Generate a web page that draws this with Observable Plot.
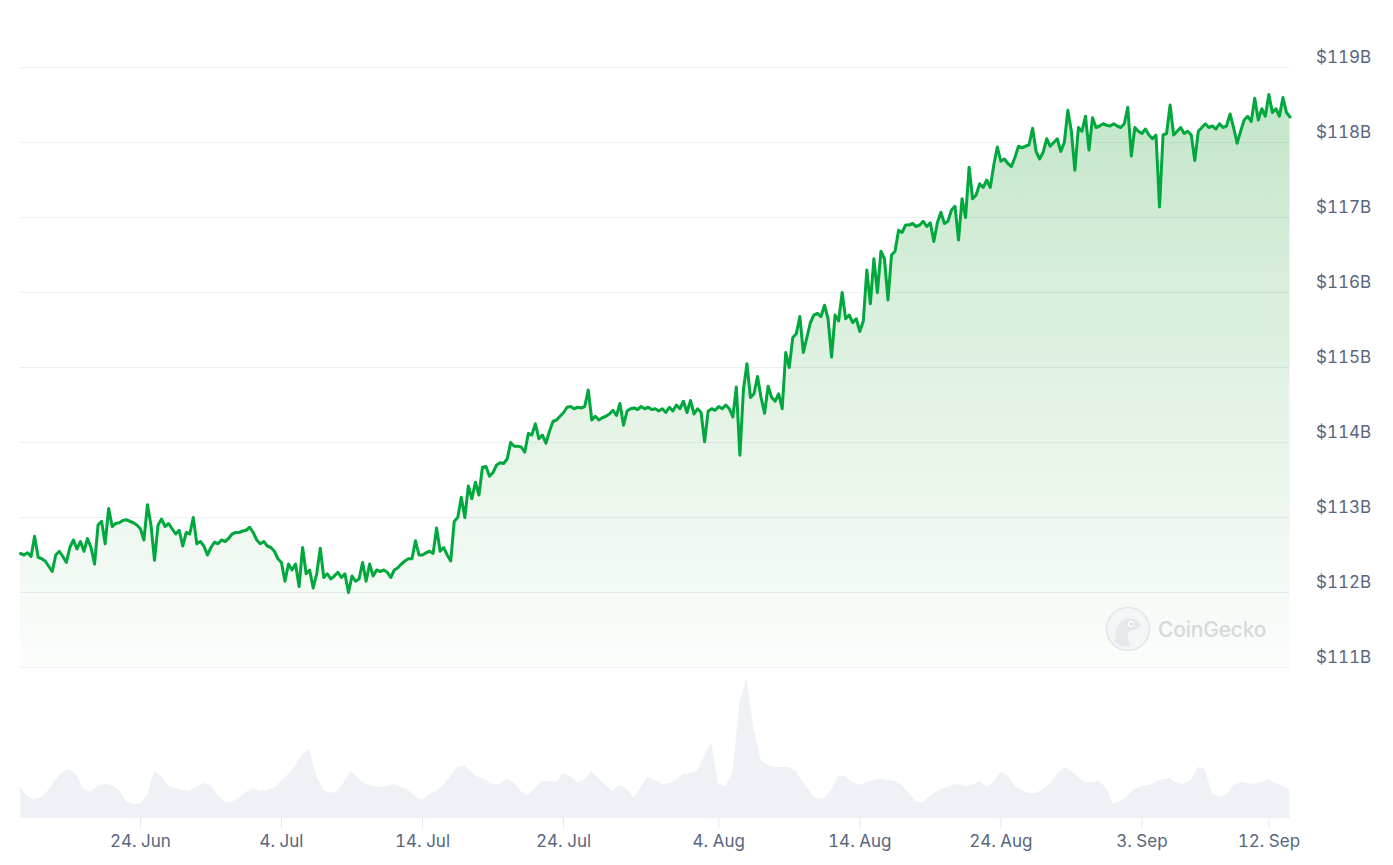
<!DOCTYPE html>
<html>
<head>
<meta charset="utf-8">
<script src="https://cdn.jsdelivr.net/npm/d3@7"></script>
<script src="https://cdn.jsdelivr.net/npm/@observablehq/plot@0.6"></script>
<style>
  html, body { margin: 0; padding: 0; background: #ffffff; }
  #wrap { position: relative; width: 1393px; height: 865px; overflow: hidden; font-family: Inter, "Noto Sans", sans-serif; }
  #wrap svg { display: block; }
  #mark { position: absolute; left: 1105px; top: 606px; display: flex; align-items: center; gap: 7px; color: #d6d8db; font-size: 21px; font-weight: 500; letter-spacing: -0.2px; }
</style>
</head>
<body>
<div id="wrap"></div>
<script>
// ---- data ----
// Market cap in $B, one value every 6 hours from 15 Jun 12:00 UTC
const seriesStart = "2025-06-15T12:00:00Z";
const priceStepHours = 6;
const marketCapB = [
  112.52,112.50,112.53,112.48,112.75,112.47,112.45,112.42,112.35,112.28,
  112.50,112.55,112.48,112.40,112.60,112.70,112.58,112.68,112.55,112.72,
  112.60,112.38,112.90,112.95,112.65,113.12,112.88,112.92,112.93,112.96,
  112.97,112.95,112.93,112.90,112.85,112.70,113.17,112.90,112.43,112.90,
  112.98,112.88,112.92,112.85,112.78,112.83,112.62,112.80,112.78,113.00,
  112.65,112.68,112.62,112.50,112.60,112.67,112.65,112.70,112.68,112.72,
  112.78,112.80,112.80,112.82,112.83,112.87,112.80,112.70,112.65,112.68,
  112.62,112.60,112.55,112.45,112.40,112.15,112.38,112.30,112.38,112.08,
  112.60,112.25,112.30,112.06,112.25,112.59,112.20,112.25,112.18,112.22,
  112.27,112.20,112.25,112.00,112.22,112.15,112.18,112.40,112.15,112.38,
  112.22,112.30,112.28,112.30,112.27,112.20,112.30,112.33,112.38,112.42,
  112.45,112.45,112.69,112.50,112.50,112.53,112.55,112.52,112.86,112.55,
  112.60,112.50,112.42,112.95,113.00,113.27,113.00,113.42,113.25,113.47,
  113.30,113.67,113.68,113.55,113.60,113.70,113.73,113.72,113.78,114.00,
  113.95,113.95,113.94,113.87,114.12,114.10,114.25,114.05,114.10,113.99,
  114.15,114.28,114.30,114.35,114.40,114.47,114.48,114.45,114.47,114.46,
  114.48,114.70,114.30,114.35,114.30,114.33,114.35,114.38,114.43,114.36,
  114.52,114.23,114.42,114.45,114.46,114.44,114.48,114.45,114.47,114.44,
  114.45,114.42,114.45,114.40,114.47,114.42,114.50,114.45,114.55,114.40,
  114.56,114.38,114.45,114.40,114.01,114.42,114.45,114.43,114.48,114.45,
  114.50,114.45,114.34,114.74,113.83,114.70,115.05,114.60,114.65,114.88,
  114.60,114.39,114.75,114.60,114.55,114.65,114.45,115.20,115.00,115.40,
  115.45,115.68,115.20,115.40,115.60,115.70,115.72,115.68,115.83,115.65,
  115.14,115.70,115.62,116.00,115.65,115.70,115.60,115.65,115.48,115.62,
  116.30,115.85,116.45,116.00,116.55,116.45,115.90,116.50,116.55,116.83,
  116.80,116.90,116.90,116.92,116.88,116.90,116.95,116.88,116.93,116.68,
  116.93,117.07,116.92,116.95,117.10,117.15,116.70,117.25,117.00,117.67,
  117.25,117.30,117.45,117.40,117.50,117.40,117.70,117.94,117.75,117.78,
  117.72,117.68,117.80,117.95,117.93,117.95,117.97,118.19,117.88,117.78,
  117.87,118.05,117.95,118.00,118.05,117.88,118.00,118.43,118.15,117.63,
  118.20,118.15,118.35,117.90,118.33,118.20,118.22,118.25,118.23,118.22,
  118.25,118.22,118.20,118.25,118.47,117.82,118.20,118.15,118.12,118.18,
  118.10,118.05,118.10,117.14,118.10,118.12,118.50,118.10,118.15,118.20,
  118.12,118.15,118.10,117.76,118.15,118.20,118.25,118.20,118.22,118.18,
  118.25,118.20,118.22,118.38,118.20,117.99,118.15,118.30,118.35,118.28,
  118.59,118.30,118.45,118.35,118.64,118.40,118.45,118.35,118.60,118.40,118.34
];
// Trading volume (relative units), one value every 12 hours from the same start
const volumeStepHours = 12;
const volumeRel = [
  31,22,19,21,28,39,46,49,43,29,
  26,32,34,33,28,17,14,14,23,47,
  42,32,30,28,27,31,35,33,23,16,
  16,20,26,30,27,28,30,37,44,52,
  64,69,42,28,25,27,37,47,39,34,
  32,31,32,34,31,28,22,18,24,27,
  33,42,51,52,46,41,38,34,34,39,
  36,27,23,30,37,37,36,45,42,36,
  38,47,40,33,27,33,30,20,31,41,
  38,34,35,38,44,45,47,62,76,34,
  32,45,115,140,90,58,53,51,51,51,
  47,36,26,19,20,28,42,42,36,33,
  36,38,39,38,37,33,25,16,16,22,
  27,30,33,34,32,33,37,31,36,46,
  43,33,28,25,25,29,34,44,51,47,
  41,36,36,37,30,14,17,22,29,32,
  33,36,39,40,35,34,38,51,49,24,
  21,23,32,36,35,34,36,39,35,32,
  29
];
const xTickDates = ["2025-06-24","2025-07-04","2025-07-14","2025-07-24","2025-08-04","2025-08-14","2025-08-24","2025-09-03","2025-09-12"];
const yTickValues = [111,112,113,114,115,116,117,118,119];

// ---- tables built from the arrays ----
const t0 = new Date(seriesStart).getTime();
const price = marketCapB.map((v, i) => ({date: new Date(t0 + i * priceStepHours * 3600e3), v}));
const volume = volumeRel.map((v, i) => ({date: new Date(t0 + i * volumeStepHours * 3600e3), v}));
const xDomain = [price[0].date, price[price.length - 1].date];
const xTicks = xTickDates.map(d => new Date(d + "T00:00:00Z"));

const W = 1393, ML = 20, MR = 103.5;
const green = "#00a83e";
const textColor = "#58667e";

const gradientDefs = () => {
  const defs = d3.create("svg:defs");
  const g = defs.append("linearGradient").attr("id", "cgGrad")
    .attr("x1", 0).attr("y1", 0).attr("x2", 0).attr("y2", 1);
  g.append("stop").attr("offset", "0%").attr("stop-color", "#c3e6c9");
  g.append("stop").attr("offset", "55%").attr("stop-color", "#e4f3e6");
  g.append("stop").attr("offset", "100%").attr("stop-color", "#fbfdfb");
  return defs.node();
};

const priceChart = Plot.plot({
  width: W, height: 668,
  marginLeft: ML, marginRight: MR, marginTop: 67, marginBottom: 1,
  style: {fontFamily: "Inter, 'Noto Sans', sans-serif", fontSize: "17px", color: textColor, background: "transparent", overflow: "visible"},
  x: {type: "utc", domain: xDomain, axis: null, label: null},
  y: {domain: [111, 119], axis: null, label: null},
  marks: [
    gradientDefs,
    Plot.areaY(price, {x: "date", y1: 111, y2: "v", fill: "url(#cgGrad)"}),
    Plot.ruleY(yTickValues, {stroke: "#1f3b5b", strokeOpacity: 0.075, strokeWidth: 1}),
    Plot.lineY(price, {x: "date", y: "v", stroke: green, strokeWidth: 3, strokeLinejoin: "round", strokeLinecap: "round"}),
    Plot.axisY(yTickValues, {anchor: "right", label: null, tickSize: 0, tickPadding: 26, dy: -10, fill: textColor, fontSize: 17, tickFormat: d => `$${d}B`})
  ]
});

const volumeChart = Plot.plot({
  width: W, height: 197,
  marginLeft: ML, marginRight: MR, marginTop: 0, marginBottom: 47,
  style: {fontFamily: "Inter, 'Noto Sans', sans-serif", fontSize: "17px", color: textColor, background: "transparent", overflow: "visible"},
  x: {type: "utc", domain: xDomain, label: null},
  y: {domain: [0, 150], axis: null, label: null},
  marks: [
    Plot.areaY(volume, {x: "date", y: "v", fill: "#eef1f5", curve: "linear"}),
    Plot.axisX(xTicks, {label: null, tickSize: 10, tickPadding: 6, stroke: "#e4e8ed", fill: textColor, fontSize: 17, tickFormat: d3.utcFormat("%-d. %b")})
  ]
});

const wrap = document.getElementById("wrap");
wrap.appendChild(priceChart);
wrap.appendChild(volumeChart);

const mark = document.createElement("div");
mark.id = "mark";
mark.innerHTML = `<svg width="46" height="46" viewBox="0 0 46 46">
  <circle cx="23" cy="23" r="21.5" fill="#f4f5f6" stroke="#e3e5e8" stroke-width="1.5"/>
  <path d="M10 36 C10 22 14 13 24 12 C31 12 35 16 36 20 C33 24 27 24 24 26 C22 29 23 34 25 40 C18 41 13 39 10 36 Z" fill="#e6e8eb"/>
  <circle cx="26" cy="18" r="3" fill="#ffffff"/>
  <circle cx="26.5" cy="18" r="1.5" fill="#d6d8dc"/>
</svg><span>CoinGecko</span>`;
wrap.appendChild(mark);
</script>
</body>
</html>
